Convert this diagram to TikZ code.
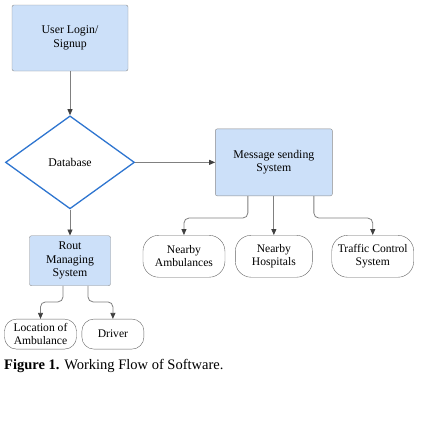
\documentclass[tikz,border=0pt]{standalone}
\usepackage{fontspec}
\setmainfont{Liberation Serif}
\usepackage{tikz}
\usetikzlibrary{arrows.meta,positioning,shapes.geometric}
\definecolor{cbox}{RGB}{204,224,249}
\definecolor{cboxline}{RGB}{140,140,140}
\definecolor{cdb}{RGB}{46,117,208}
\definecolor{cline}{RGB}{128,128,128}
\definecolor{ctip}{RGB}{64,64,64}
\definecolor{cpill}{RGB}{100,100,100}
\tikzset{
  procbox/.style={rectangle,rounded corners=2pt,fill=cbox,draw=cboxline,thin,
    align=center,inner sep=2pt,font=\fontsize{11.8}{13.5}\selectfont},
  decision/.style={diamond,draw=cdb,line width=1.3pt,fill=white,
    minimum width=129pt,minimum height=93pt,inner sep=0pt,
    font=\fontsize{11.8}{13.5}\selectfont},
  % end points of the flow drawn as pills
  pill/.style={rectangle,rounded corners=16pt,draw=cpill,fill=white,thin,
    align=center,inner xsep=4pt,inner ysep=2pt,minimum height=42pt,
    font=\fontsize{11.6}{13.5}\selectfont},
  smallpill/.style={pill,rounded corners=12pt,minimum height=30pt},
  flow/.style={draw=cline,line width=0.8pt,
    -{Triangle[length=6pt,width=5pt,color=ctip]}},
  elbow/.style={flow,rounded corners=5pt}
}

\begin{document}
\begin{tikzpicture}
  \useasboundingbox (0,0) rectangle (426pt,-426pt);
  \node[procbox, minimum width=116pt, minimum height=66pt] (login) at (70pt,-38pt) {User Login/\\Signup};
  \node[decision, below=44pt of login] (db) {Database};
  \node[procbox, minimum width=117pt, minimum height=67pt, right=80pt of db] (msg) {Message sending\\System};
  \node[procbox, minimum width=81pt, minimum height=50pt, below=26pt of db] (rout) {Rout\\Managing\\System};
  \node[pill, minimum width=77pt, below=39pt of msg] (hosp) {Nearby\\Hospitals};
  \node[pill, minimum width=82pt, left=10pt of hosp] (amb) {Nearby\\Ambulances};
  \node[pill, minimum width=82pt, right=19pt of hosp] (tcs) {Traffic Control\\System};
  \node[smallpill, minimum width=72pt, below=33pt of rout, xshift=-29.5pt] (loc) {Location of\\Ambulance};
  \node[smallpill, minimum width=62pt, right=5pt of loc] (driver) {Driver};
  \draw[flow] (login) -- (db);
  \draw[flow] (db) -- (msg);
  \draw[flow] (db) -- (rout);
  \draw[elbow] ([xshift=-26pt]msg.south) -- ++(0,-22pt) -| (amb);
  \draw[flow] (msg.south) -- (msg.south |- hosp.north);
  \draw[elbow] ([xshift=40pt]msg.south) -- ++(0,-22pt) -| (tcs);
  \draw[elbow] ([xshift=-7pt]rout.south) -- ++(0,-16pt) -| (loc);
  \draw[elbow] ([xshift=18pt]rout.south) -- ++(0,-16pt) -| (driver);
  \node[anchor=base west, inner sep=0pt, font=\fontsize{14.5}{16}\selectfont] (caption) at (4pt,-369pt) {\textbf{Figure 1.} Working Flow of Software.};
\end{tikzpicture}
\end{document}
